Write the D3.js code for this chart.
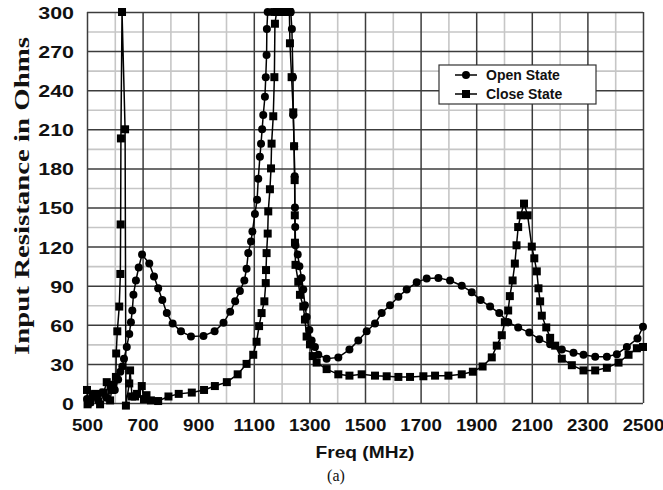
<!DOCTYPE html>
<html>
<head>
<meta charset="utf-8">
<script src="https://cdn.jsdelivr.net/npm/d3@7"></script>
<style>
  body { margin: 0; background: #fff; }
  svg { display: block; }
</style>
</head>
<body>
<div id="chart"></div>
<script>
// values
var openFreq = [500, 510, 525, 540, 555, 570, 585, 600, 612, 620, 627, 633, 643, 652, 658, 663, 667, 676, 686, 698,
    724, 741, 756, 771, 787, 808, 838, 874, 919, 959, 991, 1015, 1033, 1050, 1066, 1074, 1080, 1090, 1095, 1104,
    1112, 1116, 1122, 1126, 1130, 1134, 1140, 1143, 1146, 1147, 1150, 1165, 1182, 1200, 1218, 1233, 1237, 1241, 1242, 1245,
    1247, 1248, 1249, 1250, 1258, 1264, 1272, 1278, 1284, 1290, 1300, 1308, 1320, 1332, 1362, 1404, 1444, 1476, 1506, 1536,
    1560, 1590, 1620, 1650, 1686, 1722, 1764, 1806, 1848, 1884, 1916, 1950, 1983, 2015, 2051, 2091, 2127, 2166, 2208, 2250,
    2286, 2328, 2370, 2406, 2442, 2480, 2500];
var openRes = [3, 0, 6, 2, 8, 4, 12, 10, 18, 24, 28, 34, 43, 53, 62, 71, 83, 94, 104, 114,
    107, 97, 88, 79, 69, 61, 55, 51, 51.5, 55, 61.5, 70, 78, 86, 94, 103, 115, 124, 131.5, 145,
    156, 172, 189, 199, 210, 221, 235, 250, 267, 287, 300, 300, 300, 300, 300, 300, 287, 250, 221, 197,
    174, 150, 135, 121, 114, 105, 96, 87, 75, 66, 56, 48, 43, 37, 34, 35, 41, 48, 55, 61,
    69, 75, 81.5, 87, 92.6, 95.6, 96, 94, 90, 85, 79, 74, 69, 62, 58, 54, 49, 45, 41, 38.5,
    37, 35.5, 35.5, 37.5, 43, 49.5, 58.5];

var closeFreq = [500, 502, 511, 520, 529, 535, 547, 560, 571, 583, 589, 595, 604, 605, 609, 616, 620, 621, 622, 626,
    637, 640, 652, 655, 662, 673, 680, 697, 705, 714, 730, 756, 793, 830, 877, 921, 960, 1003, 1042, 1074,
    1098, 1110, 1119, 1128, 1138, 1143, 1144, 1146, 1150, 1152, 1158, 1162, 1164, 1170, 1174, 1176, 1182, 1200, 1218, 1228,
    1230, 1236, 1242, 1245, 1247, 1247.5, 1248, 1250, 1260, 1266, 1278, 1284, 1290, 1302, 1312, 1326, 1362, 1404, 1444, 1488,
    1536, 1578, 1620, 1662, 1710, 1752, 1800, 1848, 1888, 1923, 1956, 1974, 1992, 2003, 2015, 2021, 2031, 2039, 2045, 2051,
    2060, 2072, 2085, 2100, 2109, 2118, 2124, 2130, 2136, 2152, 2166, 2184, 2208, 2244, 2286, 2328, 2370, 2412, 2448, 2478,
    2500];
var closeRes = [10, -1, 1, 6, 7, 5, -1, 8, 16, 2, 10, 14, 20, 38, 55, 74, 99, 137, 203, 300,
    210, -2, 15, 25, 5, 5, 7, 13, 3, 6, 2, 1.5, 5, 7, 8, 10, 13, 16, 22, 30,
    37, 47, 59, 69, 78, 92, 102, 115, 130, 147, 164, 180, 199, 220, 250, 291, 300, 300, 300, 300,
    276, 250, 223, 197, 171, 144, 123, 106, 93, 83, 74, 64, 51, 45, 36, 31, 26, 22, 21, 22,
    21, 20.5, 20, 20, 20.5, 21, 21, 22, 24, 28, 35, 44, 52, 62, 71, 82, 94, 107, 121, 135,
    144, 153, 144, 120, 111, 101, 88, 78, 67, 58, 50, 44, 34, 29, 25, 25, 27, 31, 37, 42,
    43];

var xTicks = [500, 700, 900, 1100, 1300, 1500, 1700, 1900, 2100, 2300, 2500];
var xMinor = [600, 800, 1000, 1200, 1400, 1600, 1800, 2000, 2200, 2400];
var yTicks = [0, 30, 60, 90, 120, 150, 180, 210, 240, 270, 300];
var yMinor = [15, 45, 75, 105, 135, 165, 195, 225, 255, 285];
var seriesNames = ["Open State", "Close State"];

var width = 663, height = 490;
//plot area edges (top is a reserved window name, so prefix them)
var plotLeft = 87, plotRight = 643, plotTop = 12, plotBottom = 403;

var svg = d3.select("#chart").append("svg").attr("width", width).attr("height", height);

var x = d3.scaleLinear().domain([500, 2500]).range([plotLeft, plotRight]);
var y = d3.scaleLinear().domain([0, 300]).range([plotBottom, plotTop]);

//minor grid first, then major grid on top
function grid(vals, vert, color, w) {
    var ax = vert
        ? d3.axisBottom(x).tickValues(vals).tickSize(-(plotBottom - plotTop)).tickFormat("")
        : d3.axisLeft(y).tickValues(vals).tickSize(-(plotRight - plotLeft)).tickFormat("");
    var g = svg.append("g")
        .attr("transform", vert ? "translate(0," + plotBottom + ")" : "translate(" + plotLeft + ",0)")
        .call(ax);
    g.select(".domain").remove();
    g.selectAll("line").attr("stroke", color).attr("stroke-width", w);
}
grid(xMinor, true, "#c6c6c6", 1.6);
grid(yMinor, false, "#c6c6c6", 1.6);
grid(xTicks, true, "#3c3c3c", 1.5);
grid(yTicks, false, "#3c3c3c", 1.5);

//tick labels
var xAxis = svg.append("g").attr("transform", "translate(0," + plotBottom + ")")
    .call(d3.axisBottom(x).tickValues(xTicks).tickFormat(d3.format("d")).tickSize(0).tickPadding(0));
xAxis.select(".domain").remove();
xAxis.selectAll("text")
    .attr("y", 28).attr("dy", null)
    .attr("font-family", "'Liberation Sans', Arial, sans-serif")
    .attr("font-weight", "bold").attr("font-size", 17).attr("fill", "#111")
    .attr("textLength", function (d) { return String(d).length * 10.4; })
    .attr("lengthAdjust", "spacingAndGlyphs");

var yAxis = svg.append("g").attr("transform", "translate(74,0)")
    .call(d3.axisLeft(y).tickValues(yTicks).tickFormat(d3.format("d")).tickSize(0).tickPadding(0));
yAxis.select(".domain").remove();
yAxis.selectAll("text")
    .attr("x", 0).attr("dy", "0.4em")
    .attr("font-family", "'Liberation Sans', Arial, sans-serif")
    .attr("font-weight", "bold").attr("font-size", 16).attr("fill", "#111")
    .attr("textLength", function (d) { return String(d).length * 11.9; })
    .attr("lengthAdjust", "spacingAndGlyphs");

//axis titles
svg.append("text").text("Freq (MHz)")
    .attr("x", 365).attr("y", 458).attr("text-anchor", "middle")
    .attr("font-family", "'Liberation Sans', Arial, sans-serif")
    .attr("font-weight", "bold").attr("font-size", 17).attr("fill", "#111")
    .attr("textLength", 99).attr("lengthAdjust", "spacingAndGlyphs");

svg.append("text").text("Input Resistance in Ohms")
    .attr("transform", "translate(29,196) rotate(-90)")
    .attr("text-anchor", "middle")
    .attr("font-family", "'Liberation Serif', 'Times New Roman', serif")
    .attr("font-weight", "bold").attr("font-size", 22).attr("fill", "#111")
    .attr("textLength", 318).attr("lengthAdjust", "spacingAndGlyphs");

svg.append("text").text("(a)")
    .attr("x", 336).attr("y", 481).attr("text-anchor", "middle")
    .attr("font-family", "'Liberation Serif', 'Times New Roman', serif")
    .attr("font-size", 16).attr("fill", "#111");

//the curves
var openData = openFreq.map(function (f, i) { return [f, openRes[i]]; });
var closeData = closeFreq.map(function (f, i) { return [f, closeRes[i]]; });

var line = d3.line().x(function (d) { return x(d[0]); }).y(function (d) { return y(d[1]); });

svg.append("path").datum(openData).attr("d", line)
    .attr("fill", "none").attr("stroke", "#000").attr("stroke-width", 1.5);
svg.append("path").datum(closeData).attr("d", line)
    .attr("fill", "none").attr("stroke", "#000").attr("stroke-width", 1.5);

svg.append("g").selectAll("rect").data(closeData).enter().append("rect")
    .attr("x", function (d) { return x(d[0]) - 4; })
    .attr("y", function (d) { return y(d[1]) - 4; })
    .attr("width", 8).attr("height", 8).attr("fill", "#000");

svg.append("g").selectAll("circle").data(openData).enter().append("circle")
    .attr("cx", function (d) { return x(d[0]); })
    .attr("cy", function (d) { return y(d[1]); })
    .attr("r", 4).attr("fill", "#000");

//legend
var legend = svg.append("g").attr("transform", "translate(439,65)");
legend.append("rect").attr("width", 157).attr("height", 39)
    .attr("fill", "#fff").attr("stroke", "#333").attr("stroke-width", 1.2);

var rows = legend.selectAll("g.row").data(seriesNames).enter().append("g")
    .attr("transform", function (d, i) { return "translate(0," + (10 + i * 19) + ")"; });
rows.append("line").attr("x1", 16).attr("x2", 38).attr("stroke", "#000").attr("stroke-width", 1.5);
rows.filter(function (d, i) { return i === 0; }).append("circle")
    .attr("cx", 27).attr("r", 4).attr("fill", "#000");
rows.filter(function (d, i) { return i === 1; }).append("rect")
    .attr("x", 23).attr("y", -4).attr("width", 8).attr("height", 8).attr("fill", "#000");
rows.append("text").text(function (d) { return d; })
    .attr("x", 47).attr("dy", "0.36em")
    .attr("font-family", "'Liberation Sans', Arial, sans-serif")
    .attr("font-weight", "bold").attr("font-size", 14).attr("fill", "#111");
</script>
</body>
</html>
